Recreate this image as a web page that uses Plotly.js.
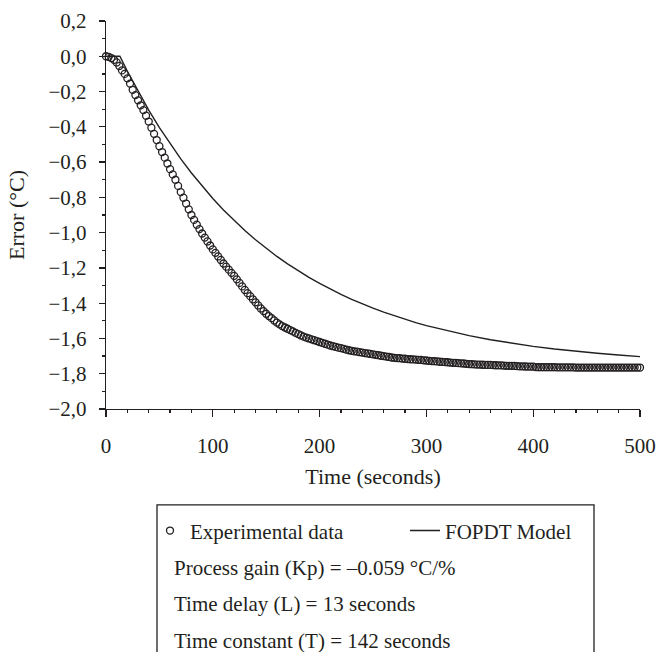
<!DOCTYPE html>
<html>
<head>
<meta charset="utf-8">
<script src="https://cdn.plot.ly/plotly-3.0.1.min.js"></script>
<style>
html,body{margin:0;padding:0;background:#fff;}
#chart{width:657px;height:652px;}
</style>
</head>
<body>
<div id="chart"></div>
<script>
// Experimental data (time in s, error in °C)
const expTime = [
  0, 2.5, 5, 7.5, 10, 12.5, 15, 17.5, 20, 22.5, 25, 27.5, 30, 32.5, 35, 37.5, 40, 42.5, 45, 47.5,
  50, 52.5, 55, 57.5, 60, 62.5, 65, 67.5, 70, 72.5, 75, 77.5, 80, 82.5, 85, 87.5, 90, 92.5, 95, 97.5,
  100, 102.5, 105, 107.5, 110, 112.5, 115, 117.5, 120, 122.5, 125, 127.5, 130, 132.5, 135, 137.5, 140, 142.5, 145, 147.5,
  150, 152.5, 155, 157.5, 160, 162.5, 165, 167.5, 170, 172.5, 175, 177.5, 180, 182.5, 185, 187.5, 190, 192.5, 195, 197.5,
  200, 202.5, 205, 207.5, 210, 212.5, 215, 217.5, 220, 222.5, 225, 227.5, 230, 232.5, 235, 237.5, 240, 242.5, 245, 247.5,
  250, 252.5, 255, 257.5, 260, 262.5, 265, 267.5, 270, 272.5, 275, 277.5, 280, 282.5, 285, 287.5, 290, 292.5, 295, 297.5,
  300, 302.5, 305, 307.5, 310, 312.5, 315, 317.5, 320, 322.5, 325, 327.5, 330, 332.5, 335, 337.5, 340, 342.5, 345, 347.5,
  350, 352.5, 355, 357.5, 360, 362.5, 365, 367.5, 370, 372.5, 375, 377.5, 380, 382.5, 385, 387.5, 390, 392.5, 395, 397.5,
  400, 402.5, 405, 407.5, 410, 412.5, 415, 417.5, 420, 422.5, 425, 427.5, 430, 432.5, 435, 437.5, 440, 442.5, 445, 447.5,
  450, 452.5, 455, 457.5, 460, 462.5, 465, 467.5, 470, 472.5, 475, 477.5, 480, 482.5, 485, 487.5, 490, 492.5, 495, 497.5,
  500
];
const expError = [
  0, -0.003, -0.01, -0.02, -0.035, -0.055, -0.08, -0.10, -0.125, -0.155, -0.19, -0.22, -0.25, -0.278, -0.305, -0.337, -0.37, -0.405, -0.44, -0.475,
  -0.51, -0.543, -0.575, -0.608, -0.64, -0.67, -0.70, -0.735, -0.77, -0.802, -0.835, -0.868, -0.90, -0.928, -0.955, -0.98, -1.005, -1.028, -1.05, -1.073,
  -1.095, -1.115, -1.135, -1.155, -1.175, -1.193, -1.21, -1.228, -1.245, -1.265, -1.285, -1.305, -1.325, -1.343, -1.36, -1.378, -1.395, -1.413, -1.43, -1.445,
  -1.46, -1.473, -1.485, -1.498, -1.51, -1.52, -1.53, -1.538, -1.545, -1.553, -1.56, -1.568, -1.575, -1.583, -1.59, -1.595, -1.60, -1.605, -1.61, -1.615,
  -1.62, -1.625, -1.63, -1.635, -1.64, -1.644, -1.648, -1.652, -1.655, -1.659, -1.663, -1.667, -1.67, -1.673, -1.675, -1.678, -1.68, -1.683, -1.685, -1.688,
  -1.69, -1.693, -1.695, -1.698, -1.70, -1.703, -1.705, -1.708, -1.71, -1.711, -1.712, -1.714, -1.715, -1.717, -1.718, -1.719, -1.72, -1.721, -1.722, -1.724,
  -1.725, -1.727, -1.728, -1.729, -1.73, -1.732, -1.733, -1.734, -1.735, -1.737, -1.738, -1.739, -1.74, -1.741, -1.742, -1.744, -1.745, -1.746, -1.747, -1.748,
  -1.748, -1.749, -1.75, -1.75, -1.75, -1.751, -1.752, -1.753, -1.753, -1.754, -1.755, -1.755, -1.755, -1.756, -1.757, -1.758, -1.758, -1.759, -1.76, -1.76,
  -1.76, -1.762, -1.763, -1.763, -1.763, -1.763, -1.763, -1.763, -1.763, -1.764, -1.764, -1.764, -1.764, -1.764, -1.764, -1.764, -1.765, -1.765, -1.765, -1.765,
  -1.765, -1.765, -1.765, -1.765, -1.765, -1.765, -1.765, -1.765, -1.765, -1.765, -1.765, -1.765, -1.765, -1.765, -1.765, -1.765, -1.765, -1.765, -1.765, -1.765,
  -1.765
];
// FOPDT model curve
const modelTime = [
  0, 13, 20, 30, 40, 50, 60, 70, 80, 90, 100, 110, 120, 130, 140, 150, 160, 170, 180, 190,
  200, 210, 220, 230, 240, 250, 260, 270, 280, 290, 300, 320, 340, 360, 380, 400, 420, 440, 460, 480, 500
];
const modelError = [
  0, 0, -0.085, -0.199, -0.305, -0.404, -0.496, -0.582, -0.662, -0.737, -0.806, -0.871, -0.932, -0.988, -1.040, -1.089, -1.135, -1.177, -1.217, -1.254,
  -1.288, -1.321, -1.350, -1.378, -1.404, -1.428, -1.451, -1.472, -1.491, -1.510, -1.527, -1.557, -1.584, -1.607, -1.627, -1.645, -1.660, -1.673, -1.684, -1.694, -1.703
];
const seriesNames = ['Experimental data', 'FOPDT Model'];
const infoLines = [
  'Process gain (Kp) = \u20130.059 °C/%',
  'Time delay (L) = 13 seconds',
  'Time constant (T) = 142 seconds'
];

const ink = '#231f20';
const font = 'Liberation Serif, Times New Roman, serif';

const traces = [
  {
    x: expTime, y: expError, name: seriesNames[0], type: 'scatter', mode: 'markers',
    cliponaxis: false,
    marker: {symbol: 'circle-open', size: 7, color: ink, line: {width: 1.3, color: ink}}
  },
  {
    x: modelTime, y: modelError, name: seriesNames[1], type: 'scatter', mode: 'lines',
    line: {color: ink, width: 1.4}
  }
];

// plot area in pixels: x 106..640, y 20.7..409
const plotH = 388.3;
const py = p => (409 - p) / plotH;
const px = p => (p - 106) / 534;

const annotations = infoLines.map((t, i) => ({
  text: t, xref: 'paper', yref: 'paper', x: px(172), y: py(568 + i * 36.5),
  xanchor: 'left', yanchor: 'middle', showarrow: false,
  font: {family: font, size: 21, color: ink}
}));

const layout = {
  width: 657, height: 652,
  margin: {l: 106, r: 17, t: 20.7, b: 243, autoexpand: false},
  paper_bgcolor: '#fff', plot_bgcolor: '#fff',
  separators: ',.',
  font: {family: font, size: 21, color: ink},
  showlegend: true,
  legend: {
    orientation: 'h', x: px(150), xanchor: 'left', y: py(531), yanchor: 'middle',
    bgcolor: 'rgba(0,0,0,0)', borderwidth: 0,
    entrywidth: 210, entrywidthmode: 'pixels',
    font: {family: font, size: 21, color: ink}
  },
  xaxis: {
    range: [0, 500], dtick: 100, tick0: 0,
    showline: true, linecolor: ink, linewidth: 1.3,
    ticks: 'outside', ticklen: 7, tickwidth: 1.3, tickcolor: ink,
    minor: {dtick: 20, ticks: 'outside', ticklen: 3, tickwidth: 1.2, tickcolor: ink},
    showgrid: false, zeroline: false,
    ticklabelstandoff: 10,
    tickfont: {family: font, size: 21, color: ink},
    title: {text: 'Time (seconds)', font: {family: font, size: 22, color: ink}, standoff: 12}
  },
  yaxis: {
    range: [-2, 0.2], dtick: 0.2, tick0: 0, tickformat: '.1f',
    showline: true, linecolor: ink, linewidth: 1.3,
    ticks: 'outside', ticklen: 6, tickwidth: 1.3, tickcolor: ink,
    minor: {dtick: 0.1, ticks: 'outside', ticklen: 3, tickwidth: 1.2, tickcolor: ink},
    showgrid: false, zeroline: false,
    ticklabelstandoff: 8,
    tickfont: {family: font, size: 21, color: ink},
    title: {text: 'Error (°C)', font: {family: font, size: 22, color: ink}, standoff: 17}
  },
  shapes: [{
    type: 'rect', xref: 'paper', yref: 'paper',
    x0: px(157), x1: px(594), y0: py(505), y1: py(700),
    line: {color: ink, width: 1.3}, fillcolor: 'rgba(0,0,0,0)'
  }],
  annotations: annotations
};

Plotly.newPlot('chart', traces, layout, {displayModeBar: false, staticPlot: true});
</script>
</body>
</html>
